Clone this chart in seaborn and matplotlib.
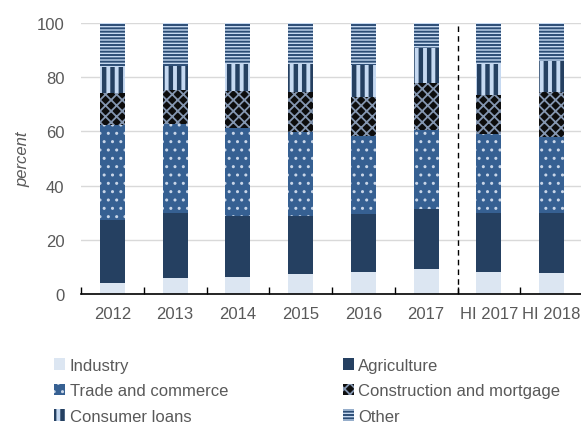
import numpy as np
import pandas as pd
import seaborn as sns
import matplotlib.pyplot as plt
import matplotlib.patches as mpatches
from matplotlib.ticker import FixedLocator

# loan shares by sector (percent)
periods = ['2012', '2013', '2014', '2015', '2016', '2017', 'HI 2017', 'HI 2018']
industry = [4.1, 6.0, 6.4, 7.3, 8.1, 9.1, 8.1, 7.7]
agriculture = [23.3, 23.8, 22.5, 21.6, 21.5, 22.1, 21.9, 22.3]
trade = [35.1, 32.9, 32.2, 31.0, 28.8, 29.3, 29.0, 28.0]
construction = [11.5, 12.6, 13.9, 14.5, 14.4, 17.4, 14.5, 16.4]
consumer = [9.6, 9.0, 9.9, 10.5, 11.6, 12.8, 11.4, 11.5]
other = [16.4, 15.7, 15.1, 15.1, 15.6, 9.3, 15.1, 14.1]

sectors = ['Industry', 'Agriculture', 'Trade and commerce',
           'Construction and mortgage', 'Consumer loans', 'Other']

data = pd.DataFrame({'period': periods,
                     'Industry': industry,
                     'Agriculture': agriculture,
                     'Trade and commerce': trade,
                     'Construction and mortgage': construction,
                     'Consumer loans': consumer,
                     'Other': other})
cum = data[sectors].cumsum(axis=1)
cum['period'] = data['period']

# face colour, hatch, hatch colour, hatch linewidth
styles = {
    'Industry': ('#dce6f2', None, '#dce6f2', 1.0),
    'Agriculture': ('#254061', None, '#254061', 1.0),
    'Trade and commerce': ('#366092', '..', '#c9d6e8', 1.0),
    'Construction and mortgage': ('#0d0d0d', 'xxx', '#8496b0', 1.3),
    'Consumer loans': ('#c6d9f1', '||', '#254061', 3.2),
    'Other': ('#c6d9f1', '-----', '#2c4d75', 1.4),
}

grey = '#595959'
fs = 12
plt.rcParams['font.family'] = ['Liberation Sans', 'DejaVu Sans']
plt.rcParams['font.size'] = fs

fig = plt.figure(figsize=(5.81, 4.27), dpi=100)
ax = fig.add_axes([81 / 581, 1 - 295 / 427, 502 / 581, 271 / 427])

# stacked bars: draw the cumulative totals from the top layer down
for sector in reversed(sectors):
    face, hatch, hcol, hlw = styles[sector]
    sns.barplot(data=cum, x='period', y=sector, order=periods,
                color=face, saturation=1, width=0.4, errorbar=None,
                hatch=hatch, edgecolor=hcol, linewidth=0, ax=ax)
    for bar in ax.containers[-1]:
        bar.set_hatch_linewidth(hlw)

ax.set_xlim(-0.5, 7.5)
ax.set_ylim(0, 100)
ax.set_yticks(np.arange(0, 101, 20))
ax.set_xlabel('')
ax.set_ylabel('percent', fontstyle='italic', color=grey, fontsize=fs)
ax.yaxis.set_label_coords(-0.10, 0.5)

# separator between yearly and half-year data
ax.axvline(5.5, color='black', linewidth=1, linestyle=(0, (4, 3)))

for side in ['top', 'right', 'left']:
    ax.spines[side].set_visible(False)
ax.spines['bottom'].set_color('black')
ax.spines['bottom'].set_linewidth(1.2)

ax.grid(axis='y', color='#d9d9d9', linewidth=1)
ax.set_axisbelow(True)

ax.xaxis.set_minor_locator(FixedLocator(np.arange(-0.5, 8, 1)))
ax.tick_params(axis='x', which='major', length=0, pad=9, labelcolor=grey, labelsize=fs)
ax.tick_params(axis='x', which='minor', direction='in', length=5, width=1, color='black')
ax.tick_params(axis='y', length=0, pad=12, labelcolor=grey, labelsize=fs)

# legend, filled row by row like the original
order = ['Industry', 'Trade and commerce', 'Consumer loans',
         'Agriculture', 'Construction and mortgage', 'Other']
handles = []
for sector in order:
    face, hatch, hcol, hlw = styles[sector]
    h = mpatches.Patch(facecolor=face, hatch=hatch, edgecolor=hcol, linewidth=0)
    h.set_hatch_linewidth(hlw)
    handles.append(h)
leg = fig.legend(handles, order, ncol=2, loc='upper left',
                 bbox_to_anchor=(54 / 581, 1 - 359 / 427),
                 frameon=False, fontsize=fs, labelcolor=grey,
                 handlelength=0.68, handleheight=0.68, handletextpad=0.25,
                 columnspacing=6.9, labelspacing=0.62, borderpad=0, borderaxespad=0)
for patch, sector in zip(leg.get_patches(), order):
    patch.set_hatch_linewidth(styles[sector][3])

plt.savefig('out.png', dpi=100)
